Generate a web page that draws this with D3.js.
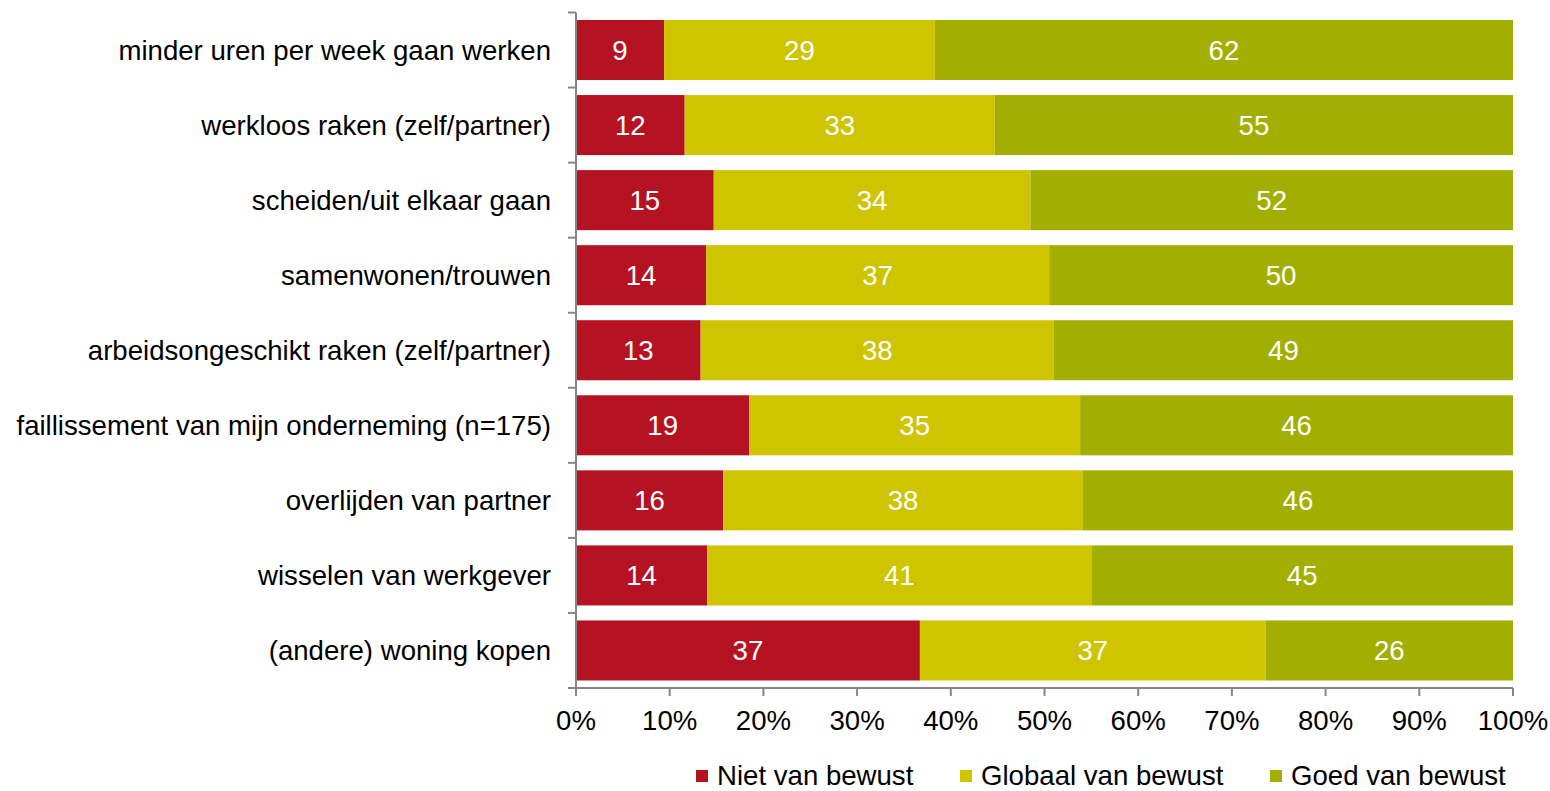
<!DOCTYPE html>
<html>
<head>
<meta charset="utf-8">
<script src="https://cdn.jsdelivr.net/npm/d3@7"></script>
<style>
  body { margin: 0; background: #fff; }
  text { font-family: "Liberation Sans", Arial, sans-serif; }
</style>
</head>
<body>
<script>
// categories, top to bottom
let categories = [
  "minder uren per week gaan werken",
  "werkloos raken (zelf/partner)",
  "scheiden/uit elkaar gaan",
  "samenwonen/trouwen",
  "arbeidsongeschikt raken (zelf/partner)",
  "faillissement van mijn onderneming (n=175)",
  "overlijden van partner",
  "wisselen van werkgever",
  "(andere) woning kopen"
];

let seriesNames = ["Niet van bewust", "Globaal van bewust", "Goed van bewust"];
let niet    = [9.4, 11.6, 14.7, 13.9, 13.3, 18.5, 15.7, 14.0, 36.7];
let globaal = [28.9, 33.1, 33.8, 36.6, 37.7, 35.3, 38.4, 41.0, 36.9];
let goed    = [61.7, 55.3, 51.5, 49.5, 49.0, 46.2, 45.9, 45.0, 26.4];
let xTicks = [0, 10, 20, 30, 40, 50, 60, 70, 80, 90, 100];

let colors = ["#b51222", "#cec400", "#a3af00"];

let W = 1550, H = 791;
let plotLeft = 576, plotRight = 1513, plotTop = 12.5, plotBottom = 688;
let fontSize = "27.6px";

let svg = d3.select("body").append("svg")
  .attr("width", W)
  .attr("height", H);

let x = d3.scaleLinear().domain([0, 100]).range([plotLeft, plotRight]);
let y = d3.scaleBand().domain(categories).range([plotTop, plotBottom]).paddingInner(0.2).paddingOuter(0.1);

// stack the series
let rows = categories.map(function(c, i) {
  return { cat: c, niet: niet[i], globaal: globaal[i], goed: goed[i] };
});
let stack = d3.stack().keys(["niet", "globaal", "goed"]);
let layers = stack(rows);

let g = svg.selectAll("g.layer")
  .data(layers)
  .enter()
  .append("g")
  .attr("class", "layer")
  .attr("fill", function(d, i) { return colors[i]; });

g.selectAll("rect")
  .data(function(d) { return d; })
  .enter()
  .append("rect")
  .attr("x", function(d) { return x(d[0]); })
  .attr("y", function(d) { return y(d.data.cat); })
  .attr("width", function(d) { return x(d[1]) - x(d[0]); })
  .attr("height", y.bandwidth());

g.selectAll("text")
  .data(function(d) { return d; })
  .enter()
  .append("text")
  .text(function(d) { return Math.round(d[1] - d[0]); })
  .attr("x", function(d) { return (x(d[0]) + x(d[1])) / 2; })
  .attr("y", function(d) { return y(d.data.cat) + y.bandwidth() / 2 + 10; })
  .attr("text-anchor", "middle")
  .attr("font-size", fontSize)
  .attr("fill", "white");

// y axis (ticks between categories)
let axisColor = "#868686";
svg.append("line")
  .attr("x1", plotLeft).attr("x2", plotLeft)
  .attr("y1", plotTop).attr("y2", plotBottom)
  .attr("stroke", axisColor).attr("stroke-width", 2);

let step = (plotBottom - plotTop) / categories.length;
svg.selectAll("line.ytick")
  .data(d3.range(categories.length + 1))
  .enter()
  .append("line")
  .attr("class", "ytick")
  .attr("x1", plotLeft - 8).attr("x2", plotLeft)
  .attr("y1", function(i) { return plotTop + i * step; })
  .attr("y2", function(i) { return plotTop + i * step; })
  .attr("stroke", axisColor).attr("stroke-width", 2);

svg.selectAll("text.ylab")
  .data(categories)
  .enter()
  .append("text")
  .attr("class", "ylab")
  .text(function(d) { return d; })
  .attr("x", 551)
  .attr("y", function(d) { return y(d) + y.bandwidth() / 2 + 10; })
  .attr("text-anchor", "end")
  .attr("font-size", fontSize)
  .attr("fill", "#000");

// x axis
svg.append("line")
  .attr("x1", plotLeft).attr("x2", plotRight)
  .attr("y1", plotBottom).attr("y2", plotBottom)
  .attr("stroke", axisColor).attr("stroke-width", 2);

svg.selectAll("line.xtick")
  .data(xTicks)
  .enter()
  .append("line")
  .attr("class", "xtick")
  .attr("x1", function(d) { return x(d); })
  .attr("x2", function(d) { return x(d); })
  .attr("y1", plotBottom).attr("y2", plotBottom + 8)
  .attr("stroke", axisColor).attr("stroke-width", 2);

svg.selectAll("text.xlab")
  .data(xTicks)
  .enter()
  .append("text")
  .attr("class", "xlab")
  .text(function(d) { return d + "%"; })
  .attr("x", function(d) { return x(d); })
  .attr("y", 730)
  .attr("text-anchor", "middle")
  .attr("font-size", fontSize)
  .attr("fill", "#000");

// legend
let legendX = [696, 960, 1270];
let lg = svg.selectAll("g.legend")
  .data(seriesNames)
  .enter()
  .append("g")
  .attr("class", "legend")
  .attr("transform", function(d, i) { return "translate(" + legendX[i] + ",770)"; });

lg.append("rect")
  .attr("width", 12).attr("height", 12)
  .attr("fill", function(d, i) { return colors[i]; });

lg.append("text")
  .text(function(d) { return d; })
  .attr("x", 21)
  .attr("y", 15)
  .attr("font-size", fontSize)
  .attr("fill", "#000");
</script>
</body>
</html>
